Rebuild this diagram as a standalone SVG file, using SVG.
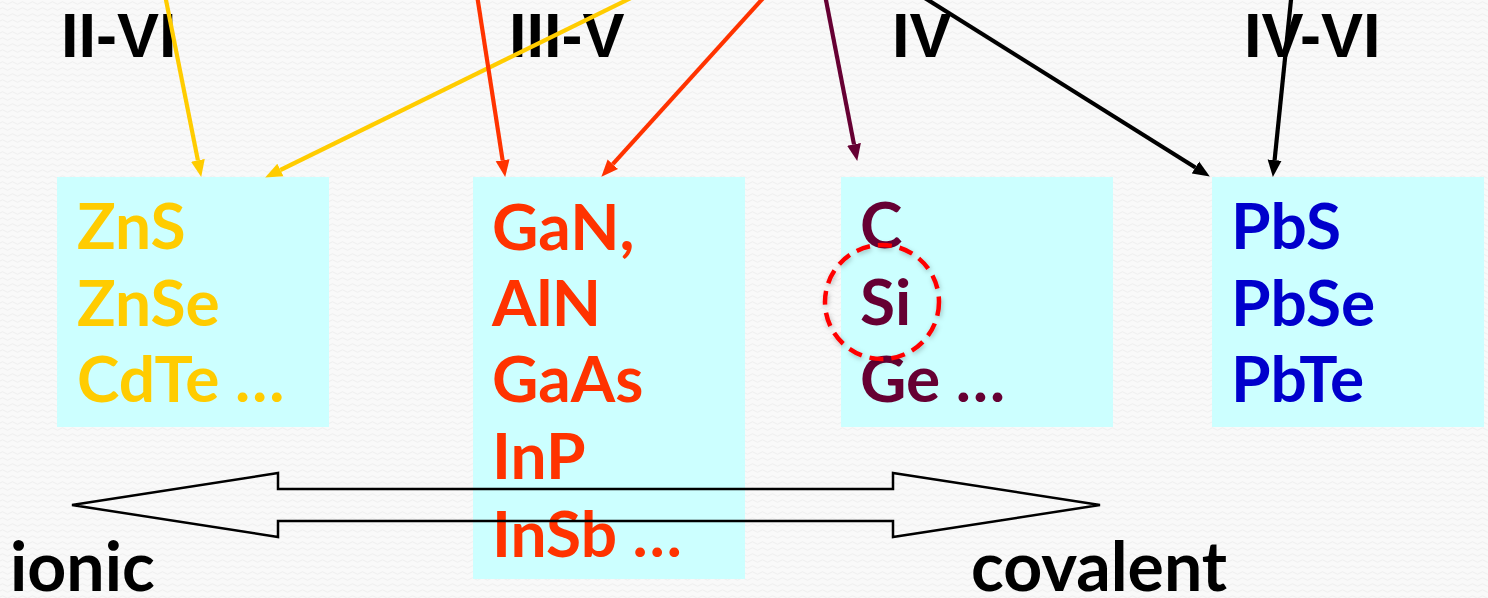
<svg xmlns="http://www.w3.org/2000/svg" width="1488" height="598" viewBox="0 0 1488 598">
  <defs>
    <pattern id="bg-weave" width="10" height="6" patternUnits="userSpaceOnUse">
      <rect width="10" height="6" fill="#f9f9f9"/>
      <path d="M0,3 Q2.5,0.5 5,3 T10,3" fill="none" stroke="#efefef" stroke-width="1"/>
    </pattern>
    <filter id="soft-shadow" x="-20%" y="-20%" width="140%" height="140%">
      <feDropShadow dx="1" dy="2" stdDeviation="2.5" flood-color="#000" flood-opacity="0.25"/>
    </filter>
    <marker id="head-gold" markerUnits="userSpaceOnUse" markerWidth="18" markerHeight="16" refX="0" refY="8" orient="auto" viewBox="0 0 18 16">
      <path d="M0,1 L17,8 L0,15 z" fill="#ffcc00"/>
    </marker>
    <marker id="head-red" markerUnits="userSpaceOnUse" markerWidth="18" markerHeight="16" refX="0" refY="8" orient="auto" viewBox="0 0 18 16">
      <path d="M0,1 L17,8 L0,15 z" fill="#ff3300"/>
    </marker>
    <marker id="head-maroon" markerUnits="userSpaceOnUse" markerWidth="18" markerHeight="16" refX="0" refY="8" orient="auto" viewBox="0 0 18 16">
      <path d="M0,1 L17,8 L0,15 z" fill="#660033"/>
    </marker>
    <marker id="head-black" markerUnits="userSpaceOnUse" markerWidth="18" markerHeight="16" refX="0" refY="8" orient="auto" viewBox="0 0 18 16">
      <path d="M0,1 L17,8 L0,15 z" fill="#000000"/>
    </marker>
  </defs>
  <style>
    .group-label { font-family: "Liberation Sans", Arial, sans-serif; font-weight: 700; font-size: 63px; fill: #000; }
    .box { fill: #ccffff; }
    .compound { font-family: Lato, "Open Sans", sans-serif; font-weight: 700; font-size: 64px; }
    .c-26 { fill: #ffcc00; }
    .c-35 { fill: #ff3300; }
    .c-4 { fill: #660033; }
    .c-46 { fill: #0000cc; }
    .axis-label { font-family: Lato, "Open Sans", sans-serif; font-weight: 700; font-size: 68px; fill: #000; }
    .link { fill: none; stroke-width: 4.2; }
  </style>

  <rect width="1488" height="598" fill="url(#bg-weave)"/>

  <!-- column headings -->
  <g id="headings">
    <text class="group-label" x="61" y="57">II-VI</text>
    <text class="group-label" x="509" y="57">III-V</text>
    <text class="group-label" x="892" y="57">IV</text>
    <text class="group-label" x="1244" y="57">IV-VI</text>
  </g>

  <g id="node-ii-vi">
    <rect class="box" x="57" y="177" width="272" height="250"/>
    <text class="compound c-26" x="77" y="249">ZnS</text>
    <text class="compound c-26" x="77" y="326">ZnSe</text>
    <text class="compound c-26" x="77" y="402">CdTe …</text>
  </g>

  <g id="node-iii-v">
    <rect class="box" x="473" y="177" width="272" height="402"/>
    <text class="compound c-35" x="492" y="250">GaN,</text>
    <text class="compound c-35" x="492" y="326">AlN</text>
    <text class="compound c-35" x="492" y="402">GaAs</text>
    <text class="compound c-35" x="492" y="479">InP</text>
    <text class="compound c-35" x="492" y="557">InSb …</text>
  </g>

  <g id="node-iv">
    <rect class="box" x="841" y="177" width="272" height="250"/>
    <text class="compound c-4" x="860" y="248">C</text>
    <text class="compound c-4" x="860" y="325">Si</text>
    <text class="compound c-4" x="860" y="402">Ge …</text>
  </g>

  <g id="node-iv-vi">
    <rect class="box" x="1212" y="177" width="272" height="250"/>
    <text class="compound c-46" x="1231" y="249">PbS</text>
    <text class="compound c-46" x="1231" y="326">PbSe</text>
    <text class="compound c-46" x="1231" y="402">PbTe</text>
  </g>

  <!-- ionic / covalent double arrow -->
  <g id="bond-axis">
    <path d="M72,505 L278,473 L278,489 L893,489 L893,473 L1100,505 L893,537 L893,521 L278,521 L278,537 Z" fill="none" stroke="#000" stroke-width="2.5" stroke-linejoin="miter"/>
    <text class="axis-label" x="10" y="591">ionic</text>
    <text class="axis-label" x="971" y="591">covalent</text>
  </g>

  <g id="connectors">
    <line class="link" stroke="#ffcc00" x1="165" y1="-5" x2="197.9" y2="160.3" marker-end="url(#head-gold)"/>
    <line class="link" stroke="#ffcc00" x1="637" y1="-5" x2="280.4" y2="170" marker-end="url(#head-gold)"/>
    <line class="link" stroke="#ff3300" x1="477" y1="-5" x2="502.6" y2="160.2" marker-end="url(#head-red)"/>
    <line class="link" stroke="#ff3300" x1="766" y1="-5" x2="612.8" y2="164.2" marker-end="url(#head-red)"/>
    <line class="link" stroke="#660033" x1="825" y1="-5" x2="854" y2="144.3" marker-end="url(#head-maroon)"/>
    <line class="link" stroke="#000000" x1="920" y1="-5" x2="1195.4" y2="167.5" marker-end="url(#head-black)"/>
    <line class="link" stroke="#000000" x1="1291.5" y1="-5" x2="1274.6" y2="160.1" marker-end="url(#head-black)"/>
  </g>

  <!-- highlight around silicon -->
  <g id="si-highlight">
    <circle cx="882" cy="302" r="57" fill="none" stroke="#ff0000" stroke-width="4.5" stroke-dasharray="14 8" filter="url(#soft-shadow)"/>
  </g>
</svg>
